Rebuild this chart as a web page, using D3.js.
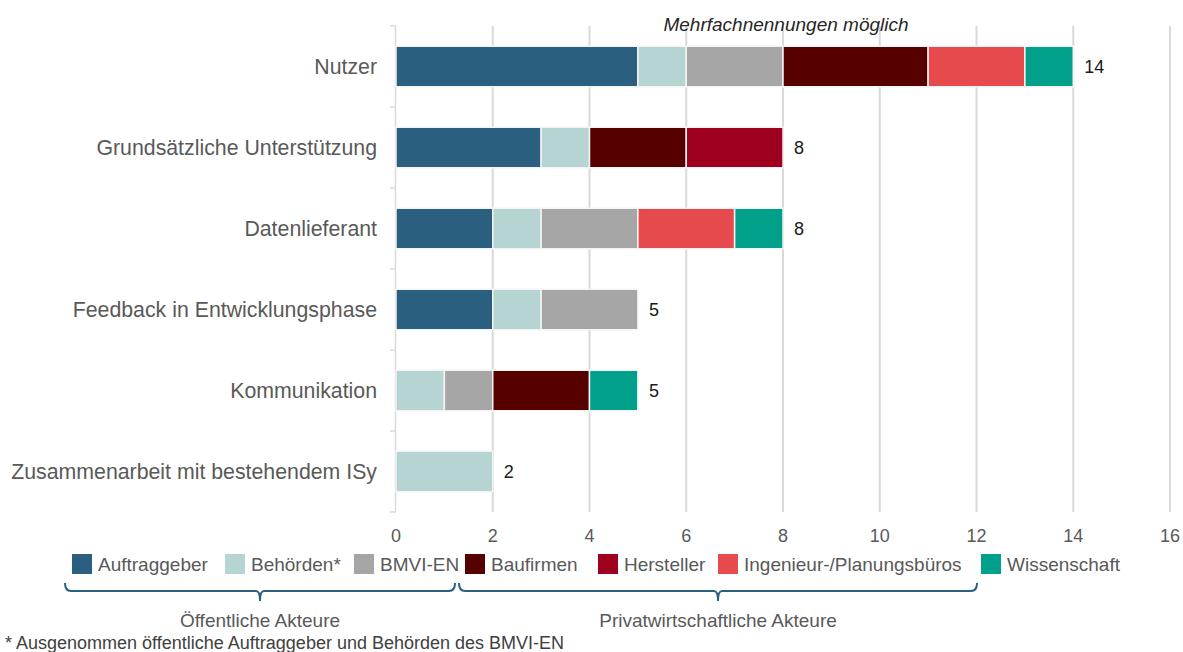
<!DOCTYPE html>
<html>
<head>
<meta charset="utf-8">
<script src="https://cdn.jsdelivr.net/npm/d3@7"></script>
<style>
  body { margin: 0; background: #fff; }
  svg { display: block; font-family: "Liberation Sans", Arial, sans-serif; }
</style>
</head>
<body>
<div id="chart"></div>
<script>
// data
const categories = [
  'Nutzer',
  'Grundsätzliche Unterstützung',
  'Datenlieferant',
  'Feedback in Entwicklungsphase',
  'Kommunikation',
  'Zusammenarbeit mit bestehendem ISy',
];
const seriesNames = [
  'Auftraggeber', 'Behörden*', 'BMVI-EN', 'Baufirmen',
  'Hersteller', 'Ingenieur-/Planungsbüros', 'Wissenschaft',
];
const auftraggeber = [5, 3, 2, 2, 0, 0];
const behoerden = [1, 1, 1, 1, 1, 2];
const bmvi = [2, 0, 2, 2, 1, 0];
const baufirmen = [3, 2, 0, 0, 2, 0];
const hersteller = [0, 2, 0, 0, 0, 0];
const ingenieur = [2, 0, 2, 0, 0, 0];
const wissenschaft = [1, 0, 1, 0, 1, 0];
const xTicks = [0, 2, 4, 6, 8, 10, 12, 14, 16];
const groups = [
  { label: 'Öffentliche Akteure', from: 0, to: 2 },
  { label: 'Privatwirtschaftliche Akteure', from: 3, to: 5 },
];
const colors = ['#2b5f80', '#b5d4d2', '#a6a6a6', '#560000', '#a00020', '#e64a4d', '#00a08a'];

const WIDTH = 1183;
const HEIGHT = 652;
const margin = { left: 396, right: 13, top: 26, bottom: 140 };

const allSeries = [auftraggeber, behoerden, bmvi, baufirmen, hersteller, ingenieur, wissenschaft];
const rows = categories.map((c, i) => {
  const r = { name: c };
  seriesNames.forEach((s, j) => { r[s] = allSeries[j][i]; });
  r.total = d3.sum(allSeries, (a) => a[i]);
  return r;
});

const svg = d3.select('#chart').append('svg')
  .attr('width', WIDTH)
  .attr('height', HEIGHT);

const y0 = margin.top;
const y1 = HEIGHT - margin.bottom;

const scaleX = d3.scaleLinear().domain([0, 16]).range([margin.left, WIDTH - margin.right]);
const scaleY = d3.scaleBand().domain(categories)
  .range([y0, y1])
  .paddingInner(0.5).paddingOuter(0.25);
const colorScale = d3.scaleOrdinal().domain(seriesNames).range(colors);

// gridlines
svg.append('g')
  .selectAll('line')
  .data(xTicks.slice(1))
  .join('line')
  .attr('x1', (d) => scaleX(d))
  .attr('x2', (d) => scaleX(d))
  .attr('y1', y0)
  .attr('y2', y1)
  .attr('stroke', '#d9d9d9')
  .attr('stroke-width', 2);

// y axis line + category ticks
svg.append('line')
  .attr('x1', scaleX(0) - 0.5).attr('x2', scaleX(0) - 0.5)
  .attr('y1', y0).attr('y2', y1)
  .attr('stroke', '#d9d9d9').attr('stroke-width', 1.5);
const boundaries = d3.range(categories.length + 1).map((i) => y0 + i * (y1 - y0) / categories.length);
svg.append('g')
  .selectAll('line')
  .data(boundaries)
  .join('line')
  .attr('x1', scaleX(0) - 6).attr('x2', scaleX(0))
  .attr('y1', (d) => d).attr('y2', (d) => d)
  .attr('stroke', '#d9d9d9').attr('stroke-width', 1.5);

// stacked bars
const stacked = d3.stack().keys(seriesNames)(rows);
svg.append('g')
  .selectAll('g')
  .data(stacked)
  .join('g')
  .attr('fill', (d) => colorScale(d.key))
  .selectAll('rect')
  .data((d) => d.filter((p) => p[1] > p[0]))
  .join('rect')
  .attr('x', (d) => scaleX(d[0]))
  .attr('y', (d) => scaleY(d.data.name))
  .attr('width', (d) => scaleX(d[1]) - scaleX(d[0]))
  .attr('height', scaleY.bandwidth())
  .attr('stroke', '#f4f4f4')
  .attr('stroke-width', 1.5);

// value labels
svg.append('g')
  .selectAll('text')
  .data(rows)
  .join('text')
  .attr('x', (d) => scaleX(d.total) + 11)
  .attr('y', (d) => scaleY(d.name) + scaleY.bandwidth() / 2)
  .attr('dy', '0.35em')
  .attr('font-size', 18)
  .attr('fill', '#1a1a1a')
  .text((d) => d.total);

// category labels
svg.append('g')
  .selectAll('text')
  .data(categories)
  .join('text')
  .attr('x', 377)
  .attr('y', (d) => scaleY(d) + scaleY.bandwidth() / 2)
  .attr('dy', '0.35em')
  .attr('text-anchor', 'end')
  .attr('font-size', 21.3)
  .attr('fill', '#595959')
  .text((d) => d);

// x tick labels
svg.append('g')
  .selectAll('text')
  .data(xTicks)
  .join('text')
  .attr('x', (d) => scaleX(d))
  .attr('y', 536)
  .attr('dy', '0.35em')
  .attr('text-anchor', 'middle')
  .attr('font-size', 18)
  .attr('fill', '#595959')
  .text((d) => d);

// title note
svg.append('text')
  .attr('x', 786)
  .attr('y', 24)
  .attr('dy', '0.35em')
  .attr('text-anchor', 'middle')
  .attr('font-size', 19)
  .attr('font-style', 'italic')
  .attr('fill', '#262626')
  .text('Mehrfachnennungen möglich');

// legend
const legendX = [72, 225, 354, 465, 598, 718, 981];
const legend = svg.append('g')
  .selectAll('g')
  .data(seriesNames)
  .join('g')
  .attr('transform', (d, i) => `translate(${legendX[i]},554)`);
legend.append('rect')
  .attr('width', 20).attr('height', 20)
  .attr('fill', (d) => colorScale(d));
legend.append('text')
  .attr('x', 26).attr('y', 10)
  .attr('dy', '0.35em')
  .attr('font-size', 19)
  .attr('fill', '#595959')
  .text((d) => d);

// braces
const braceX = [[65, 455], [459, 977]];
const brace = svg.append('g')
  .selectAll('g')
  .data(groups)
  .join('g');
brace.append('path')
  .attr('d', (d, i) => {
    const [a, b] = braceX[i];
    const m = (a + b) / 2;
    const yb = 591;
    return `M${a},${yb - 8} Q${a},${yb} ${a + 6},${yb} L${m - 4},${yb} Q${m},${yb} ${m},${yb + 10}` +
      ` M${m},${yb + 10} Q${m},${yb} ${m + 4},${yb} L${b - 6},${yb} Q${b},${yb} ${b},${yb - 8}`;
  })
  .attr('fill', 'none')
  .attr('stroke', '#2b5f80')
  .attr('stroke-width', 2);
brace.append('text')
  .attr('x', (d, i) => (braceX[i][0] + braceX[i][1]) / 2)
  .attr('y', 620)
  .attr('dy', '0.35em')
  .attr('text-anchor', 'middle')
  .attr('font-size', 19)
  .attr('fill', '#595959')
  .text((d) => d.label);

// footnote
svg.append('text')
  .attr('x', 5)
  .attr('y', 643)
  .attr('dy', '0.35em')
  .attr('font-size', 18)
  .attr('fill', '#404040')
  .text('* Ausgenommen öffentliche Auftraggeber und Behörden des BMVI-EN');
</script>
</body>
</html>
